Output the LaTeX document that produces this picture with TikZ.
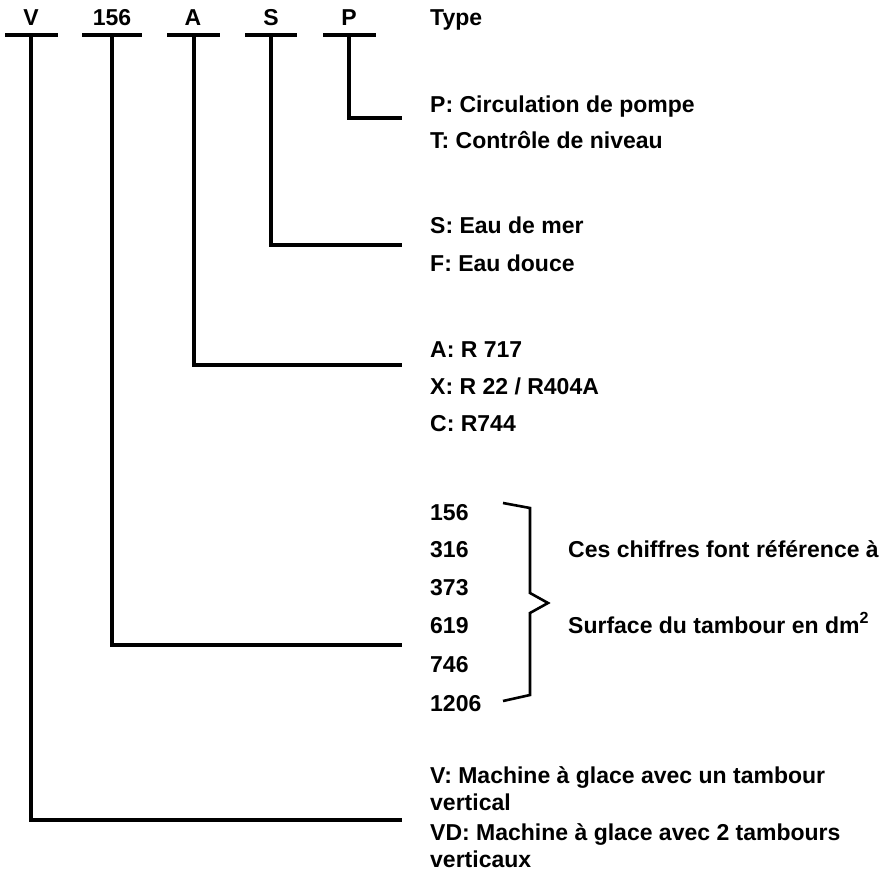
\documentclass[tikz,border=0pt]{standalone}
\usepackage{fontspec}
\setmainfont{Liberation Sans}

\begin{document}
\begin{tikzpicture}[
    x=1pt, y=-1pt,
    code/.style={font=\bfseries\fontsize{23}{27}\selectfont, inner sep=0pt, anchor=base},
    txt/.style={font=\bfseries\fontsize{23}{27}\selectfont, inner sep=0pt, anchor=base west, align=left},
    bar/.style={line width=3.6pt},
    leg/.style={line width=3.6pt, line join=miter},
    brace/.style={line width=2.6pt, line join=miter}
  ]
  \useasboundingbox (0,0) rectangle (884,873);

  % type code on top
  \node[code] (cV)   at (31,25)  {V};
  \node[code] (c156) at (112,25) {156};
  \node[code] (cA)   at (193,25) {A};
  \node[code] (cS)   at (271,25) {S};
  \node[code] (cP)   at (349,25) {P};
  \node[txt]  (tType) at (430,25) {Type};

  \coordinate (bV)   at (31,35);
  \coordinate (b156) at (112,35);
  \coordinate (bA)   at (194,35);
  \coordinate (bS)   at (271,35);
  \coordinate (bP)   at (349,35);

  \draw[bar] ([xshift=-26pt]bV)   -- ([xshift=27pt]bV);
  \draw[bar] ([xshift=-30pt]b156) -- ([xshift=30pt]b156);
  \draw[bar] ([xshift=-27pt]bA)   -- ([xshift=26pt]bA);
  \draw[bar] ([xshift=-26pt]bS)   -- ([xshift=26pt]bS);
  \draw[bar] ([xshift=-26pt]bP)   -- ([xshift=27pt]bP);

  % legend texts
  \node[txt] (tP) at (430,112) {P: Circulation de pompe};
  \node[txt] (tT) at (430,148) {T: Contrôle de niveau};
  \node[txt] (tS) at (430,233) {S: Eau de mer};
  \node[txt] (tF) at (430,271) {F: Eau douce};
  \node[txt] (tA) at (430,357) {A: R 717};
  \node[txt] (tX) at (430,394) {X: R 22 / R404A};
  \node[txt] (tC) at (430,431) {C: R744};

  \node[txt] (n156)  at (430,520) {156};
  \node[txt] (n316)  at (430,557) {316};
  \node[txt] (n373)  at (430,595) {373};
  \node[txt] (n619)  at (430,633) {619};
  \node[txt] (n746)  at (430,672) {746};
  \node[txt] (n1206) at (430,711) {1206};

  \node[txt] (tRef)  at (568,557) {Ces chiffres font référence à};
  \node[txt] (tSurf) at (568,633) {Surface du tambour en dm\textsuperscript{2}};

  \node[txt] (tV)  at (430,783) {V: Machine à glace avec un tambour};
  \node[txt] (tV2) at (430,810) {vertical};
  \node[txt] (tVD) at (430,840) {VD: Machine à glace avec 2 tambours};
  \node[txt] (tVD2) at (430,867) {verticaux};

  % line ends
  \coordinate (eP)   at (402,118);
  \coordinate (eS)   at (402,245);
  \coordinate (eA)   at (402,365);
  \coordinate (e156) at (402,645);
  \coordinate (eV)   at (402,820);

  \draw[leg] (bP)   |- (eP);
  \draw[leg] (bS)   |- (eS);
  \draw[leg] (bA)   |- (eA);
  \draw[leg] (b156) |- (e156);
  \draw[leg] (bV)   |- (eV);

  % brace
  \draw[brace] (503,503) -- (530,508) -- (530,593) -- (548,603)
               -- (530,613) -- (530,695) -- (503,701);
\end{tikzpicture}
\end{document}
